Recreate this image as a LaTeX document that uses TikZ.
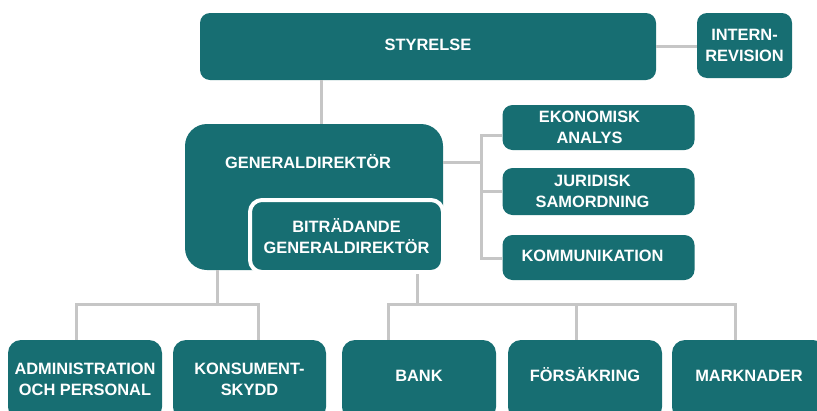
\documentclass[tikz,border=0pt]{standalone}
\usepackage{fontspec}
\setmainfont{Liberation Sans}
\definecolor{petrol}{HTML}{176E72}
\definecolor{linegray}{HTML}{C6C6C6}
\begin{document}
\begin{tikzpicture}[x=1pt, y=-1pt,
    box/.style={fill=petrol, text=white, font=\bfseries\fontsize{16.4}{21}\selectfont, align=center, inner sep=0pt, rounded corners=10pt},
    txt/.style={text=white, font=\bfseries\fontsize{16.4}{21}\selectfont, align=center, inner sep=0pt},
    side/.style={box, minimum width=192pt},
    unit/.style={box, rounded corners=13pt, minimum width=154pt, minimum height=80pt, text depth=1pt},
    oneline/.style={text height=12pt, text depth=10pt},
    link/.style={draw=linegray, line width=3pt}]
    \clip (0,0) rectangle (817,410);
\node[box, minimum width=456pt, minimum height=67pt, text height=12pt, text depth=5pt] (styrelse) at (428,46.5) {STYRELSE};
\node[box, minimum width=95pt, minimum height=65pt] (intern) at (744.5,45.5) {INTERN-\\REVISION};
\node[box, rounded corners=22pt, minimum width=258pt, minimum height=146pt] (gd) at (314,197) {};
\node[txt] (gdtext) at (308,162) {GENERALDIREKTÖR};
\node[box, draw=white, line width=4pt, rounded corners=12pt, minimum width=193pt, minimum height=72pt] (bitr) at (346.5,236) {BITRÄDANDE\\GENERALDIREKTÖR};
\node[side, minimum height=45pt, label={[txt, xshift=-9pt]center:{EKONOMISK\\ANALYS}}] (ekon) at (598.5,127.5) {};
\node[side, minimum height=47pt, label={[txt, xshift=-6pt]center:{JURIDISK\\SAMORDNING}}] (jur) at (598.5,191.5) {};
\node[side, minimum height=45pt, label={[txt, xshift=-6pt, yshift=2pt]center:{KOMMUNIKATION}}] (komm) at (598.5,257.5) {};
\node[unit] (admin) at (85,380) {ADMINISTRATION\\OCH PERSONAL};
\node[unit, minimum width=153pt] (kons) at (249.5,380) {KONSUMENT-\\SKYDD};
\node[unit, oneline] (bank) at (419,380) {BANK};
\node[unit, oneline] (fors) at (585,380) {FÖRSÄKRING};
\node[unit, oneline] (mark) at (749,380) {MARKNADER};

\coordinate (s1) at (321,100);
\coordinate (r1) at (481,135);
\coordinate (r2) at (481,162);
\coordinate (r3) at (481,258);
\coordinate (lb) at (217,304);
\coordinate (d1) at (76,304);
\coordinate (d2) at (258,304);
\coordinate (rb) at (417,304);
\coordinate (d3) at (388,304);
\coordinate (d4) at (576,304);
\coordinate (d5) at (735,304);

\draw[link] (styrelse.south -| s1)--(gd.north -| s1);
\draw[link] (styrelse.east)--(intern.west |- styrelse.east);
\draw[link] (gd.east |- r2)--(r2);
\draw[link] (ekon.west |- r1)--(r1)--(r3)--(komm.west |- r3);
\draw[link] (jur.west)--(jur.west -| r1);
\draw[link] (gd.south -| lb)--(lb);
\draw[link] (admin.north -| d1)--(d1)--(d2)--(kons.north -| d2);
\draw[link] (bitr.south -| rb)--(rb);
\draw[link] (bank.north -| d3)--(d3)--(d5)--(mark.north -| d5);
\draw[link] (fors.north -| d4)--(d4);
\end{tikzpicture}
\end{document}
